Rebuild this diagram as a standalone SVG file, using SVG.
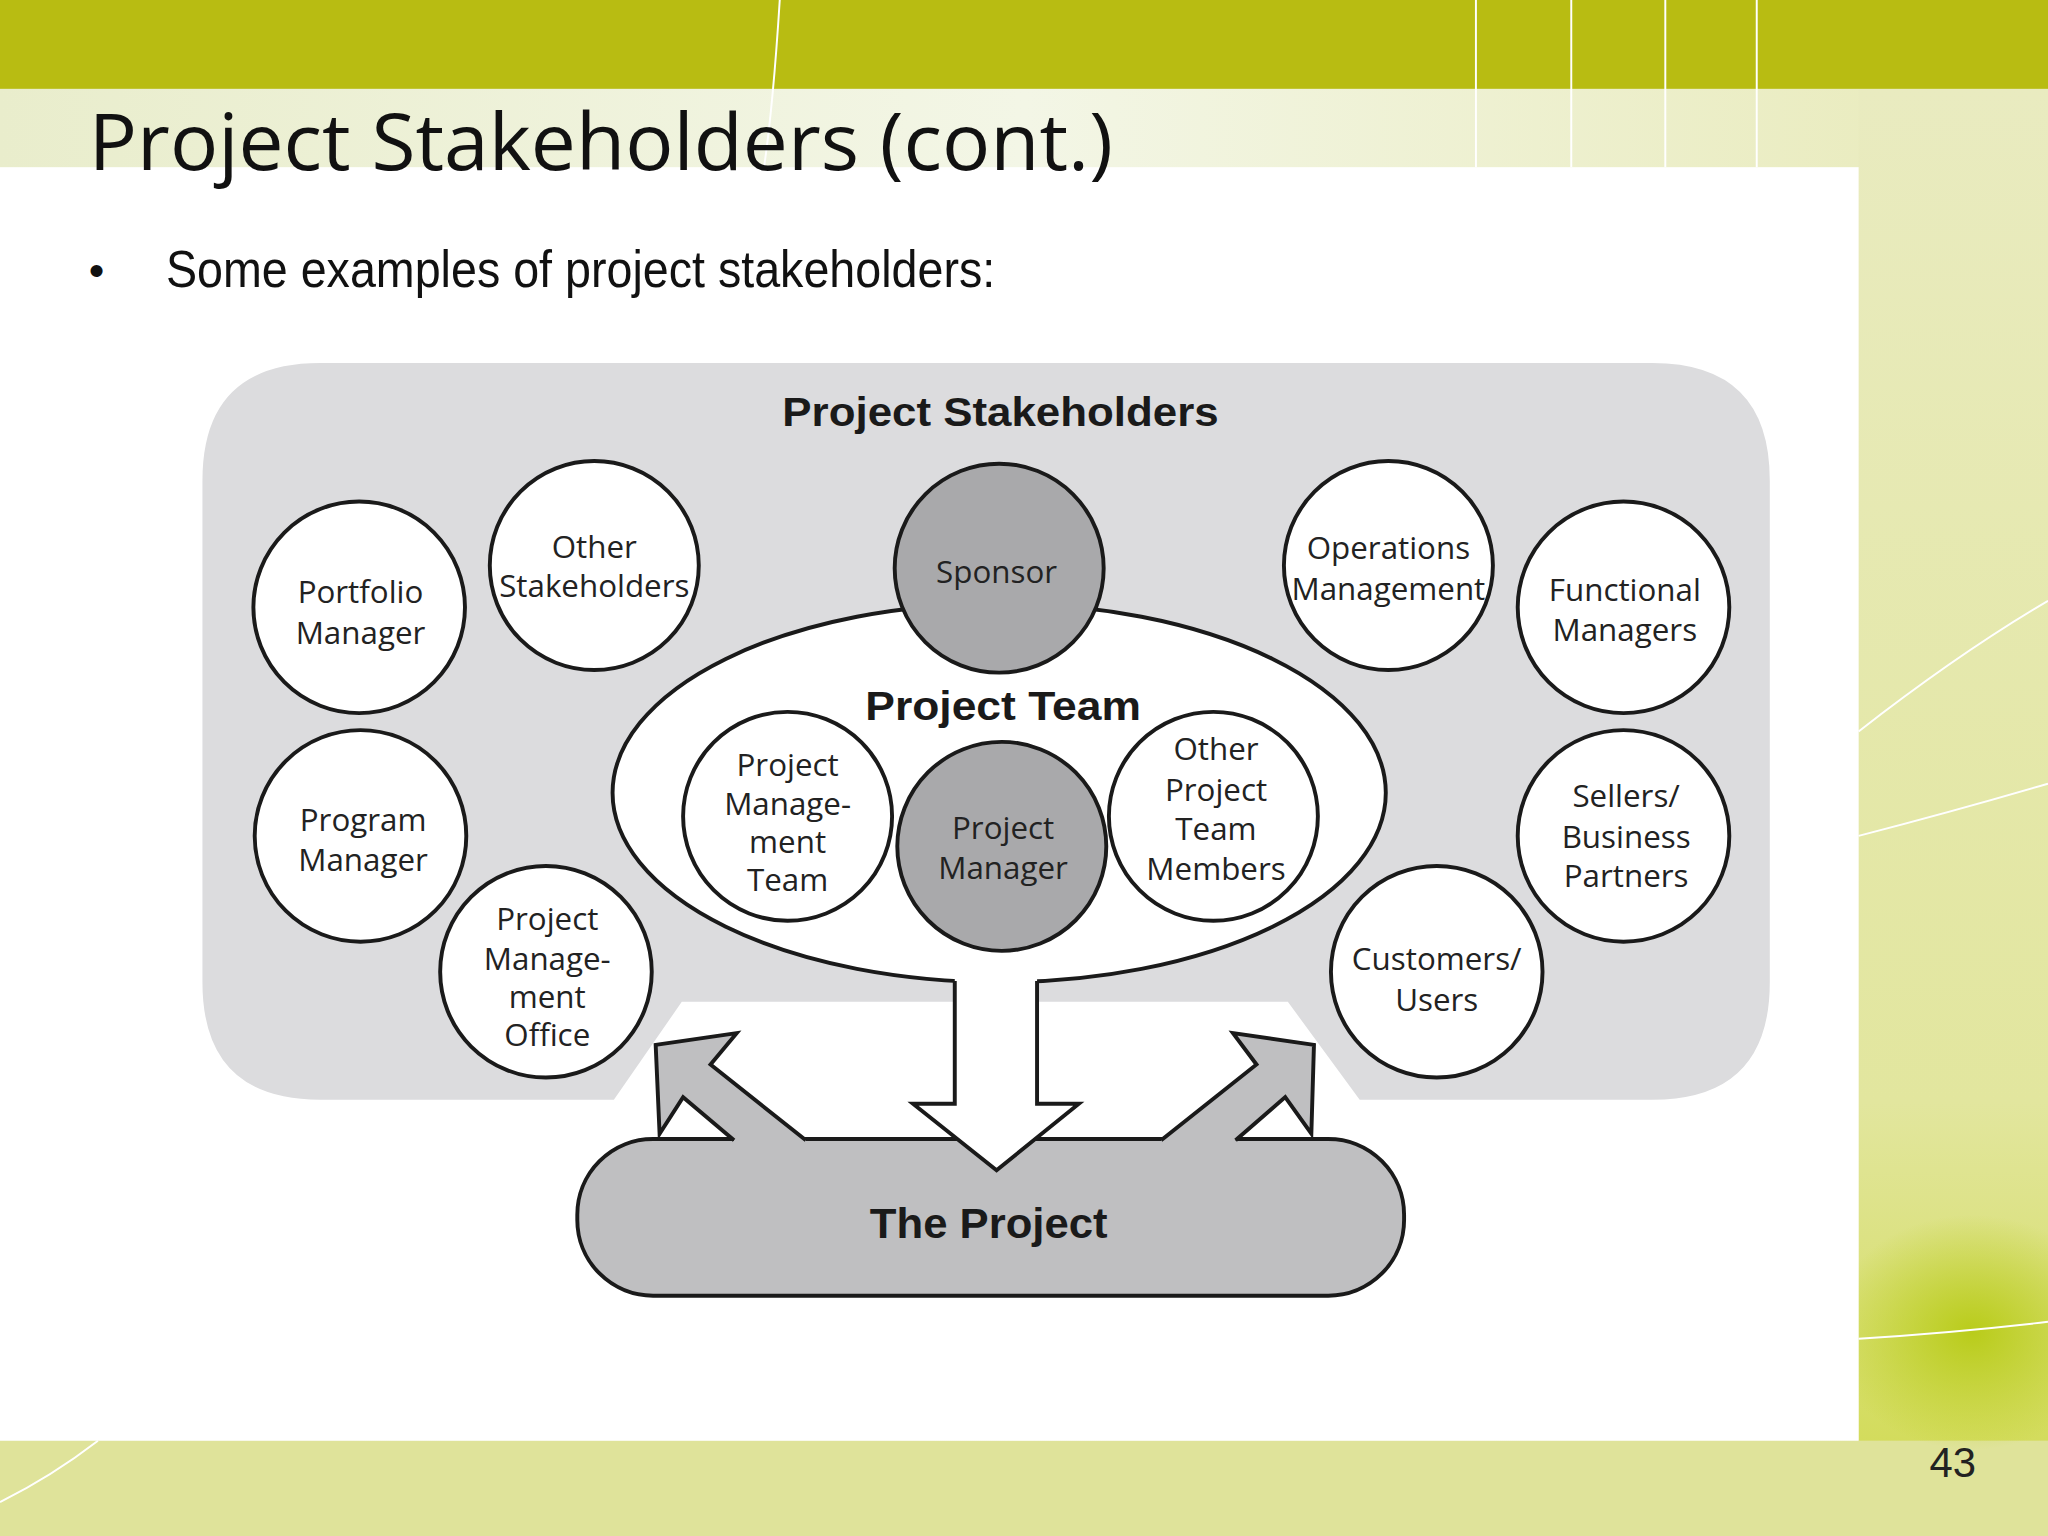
<svg xmlns="http://www.w3.org/2000/svg" width="2048" height="1536" viewBox="0 0 2048 1536">
<defs>
<linearGradient id="pale" x1="0" y1="0" x2="1" y2="0"><stop offset="0" stop-color="#e9edcc"/><stop offset="0.5" stop-color="#f3f6e6"/><stop offset="1" stop-color="#e8eab8"/></linearGradient>
<linearGradient id="rs" x1="0" y1="0" x2="0" y2="1"><stop offset="0" stop-color="#e9ebc0"/><stop offset="0.7" stop-color="#e2e69e"/><stop offset="1" stop-color="#cfd94a"/></linearGradient>
<radialGradient id="blob" cx="0.5" cy="0.5" r="0.5"><stop offset="0" stop-color="#b9cc1a"/><stop offset="1" stop-color="#b9cc1a" stop-opacity="0"/></radialGradient>
<style>
.c{fill:#fff;stroke:#1a1a1a;stroke-width:3}
.g{fill:#a9a9ab;stroke:#1a1a1a;stroke-width:3}
.t{font-family:"Open Sans","Noto Sans",sans-serif;font-size:24px;fill:#222;text-anchor:middle}
.b{font-family:"Liberation Sans",Arial,sans-serif;font-weight:bold;fill:#1a1a1a;text-anchor:middle}
.e{fill:none;stroke:#1a1a1a;stroke-width:3;stroke-linejoin:miter}
</style>
</defs>
<g transform="scale(1.306122)">
<g id="background">
<rect x="0" y="0" width="1568" height="1176" fill="url(#pale)"/>
<rect x="1423" y="68" width="145" height="1108" fill="url(#rs)"/>
<rect x="0" y="1103" width="1568" height="73" fill="#dfe39a"/>
<ellipse cx="1510" cy="1020" rx="110" ry="90" fill="url(#blob)"/>
<rect x="0" y="0" width="1568" height="68" fill="#b8bc12"/>
<g stroke="#fff" stroke-width="1.5" fill="none">
<line x1="1130" y1="0" x2="1130" y2="128"/><line x1="1203" y1="0" x2="1203" y2="128"/><line x1="1275" y1="0" x2="1275" y2="128"/><line x1="1345" y1="0" x2="1345" y2="128"/>
<path d="M597 0 Q592 80 585 128"/>
<path d="M1423 560 Q1500 500 1568 460"/><path d="M1423 640 Q1500 620 1568 600"/><path d="M1423 1025 Q1500 1020 1568 1012"/>
<path d="M0 1150 Q40 1130 75 1103"/>
</g>
<rect x="0" y="128" width="1423" height="975" fill="#fff"/>
</g>
<g id="title">
<text x="68" y="130" font-family="'Open Sans','Noto Sans',sans-serif" font-size="60" fill="#111" textLength="784" lengthAdjust="spacingAndGlyphs">Project Stakeholders (cont.)</text>
<text x="68" y="219" font-family="'Liberation Sans',Arial,sans-serif" font-size="34" fill="#111">•</text>
<text x="127" y="220" font-family="'Liberation Sans',Arial,sans-serif" font-size="40" fill="#111" textLength="635" lengthAdjust="spacingAndGlyphs">Some examples of project stakeholders:</text>
<text x="1495" y="1131" font-family="'Liberation Sans',Arial,sans-serif" font-size="32" fill="#222" text-anchor="middle">43</text>
</g>
<g id="stakeholders-area">
<path d="M245 278 H1265 Q1355 278 1355 368 V752 Q1355 842 1265 842 H1041 L986 767 H522 L470 842 H245 Q155 842 155 752 V368 Q155 278 245 278 Z" fill="#dcdcde"/>
<text class="b" x="766" y="326" font-size="31" textLength="334" lengthAdjust="spacingAndGlyphs">Project Stakeholders</text>
</g>
<g id="project-team">
<ellipse cx="765" cy="607" rx="296" ry="145" class="c"/>
<text class="b" x="768" y="551" font-size="31" textLength="211" lengthAdjust="spacingAndGlyphs">Project Team</text>
</g>
<g id="sponsor"><circle cx="765" cy="435" r="80" class="g"/><text class="t" x="763" y="446">Sponsor</text></g>
<g id="portfolio-manager"><circle cx="275" cy="465" r="81" class="c"/><text class="t" x="276" y="462">Portfolio</text><text class="t" x="276" y="493">Manager</text></g>
<g id="other-stakeholders"><circle cx="455" cy="433" r="80" class="c"/><text class="t" x="455" y="427">Other</text><text class="t" x="455" y="457">Stakeholders</text></g>
<g id="operations-management"><circle cx="1063" cy="433" r="80" class="c"/><text class="t" x="1063" y="428">Operations</text><text class="t" x="1063" y="459">Management</text></g>
<g id="functional-managers"><circle cx="1243" cy="465" r="81" class="c"/><text class="t" x="1244" y="460">Functional</text><text class="t" x="1244" y="491">Managers</text></g>
<g id="program-manager"><circle cx="276" cy="640" r="81" class="c"/><text class="t" x="278" y="636">Program</text><text class="t" x="278" y="667">Manager</text></g>
<g id="pmo"><circle cx="418" cy="744" r="81" class="c"/><text class="t" x="419" y="712">Project</text><text class="t" x="419" y="743">Manage-</text><text class="t" x="419" y="772">ment</text><text class="t" x="419" y="801">Office</text></g>
<g id="sellers"><circle cx="1243" cy="640" r="81" class="c"/><text class="t" x="1245" y="618">Sellers/</text><text class="t" x="1245" y="649">Business</text><text class="t" x="1245" y="679">Partners</text></g>
<g id="customers"><circle cx="1100" cy="744" r="81" class="c"/><text class="t" x="1100" y="743">Customers/</text><text class="t" x="1100" y="774">Users</text></g>
<g id="pm-team"><circle cx="603" cy="625" r="80" class="c"/><text class="t" x="603" y="594">Project</text><text class="t" x="603" y="624">Manage-</text><text class="t" x="603" y="653">ment</text><text class="t" x="603" y="682">Team</text></g>
<g id="other-team"><circle cx="929" cy="625" r="80" class="c"/><text class="t" x="931" y="582">Other</text><text class="t" x="931" y="613">Project</text><text class="t" x="931" y="643">Team</text><text class="t" x="931" y="674">Members</text></g>
<g id="project-manager"><circle cx="767" cy="648" r="80" class="g"/><text class="t" x="768" y="642">Project</text><text class="t" x="768" y="673">Manager</text></g>
<g id="the-project">
<rect x="442" y="872" width="633" height="120" rx="58" ry="58" fill="#bfbfc1" stroke="#1a1a1a" stroke-width="3"/>
</g>
<g id="connectors">
<polygon points="617,876 562,876 562,873 523,840 505,868 502,800 564,791 544,815 617,873" fill="#bfbfc1"/>
<polyline class="e" points="562,873 523,840 505,868 502,800 564,791 544,815 617,873"/>
<polygon points="889,876 946,876 946,873 984,840 1004,868 1006,800 944,791 962,815 889,873" fill="#bfbfc1"/>
<polyline class="e" points="946,873 984,840 1004,868 1006,800 944,791 962,815 889,873"/>
<polygon points="731,740 794,740 794,845 826,845 763,896 699,845 731,845" fill="#fff"/>
<polyline class="e" points="731,751 731,845 699,845 763,896 826,845 794,845 794,751"/>
</g>
<text class="b" x="757" y="948" font-size="32" textLength="182" lengthAdjust="spacingAndGlyphs">The Project</text>
</g>
</svg>
